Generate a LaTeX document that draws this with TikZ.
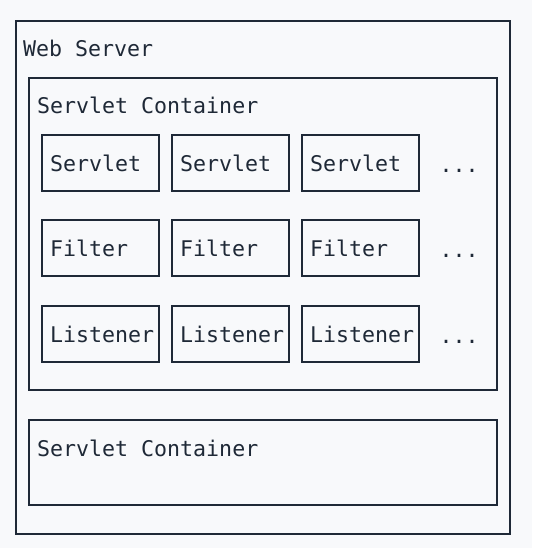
\documentclass[tikz,border=0pt]{standalone}
\usepackage{fontspec}
\setmonofont{DejaVu Sans Mono}
\usetikzlibrary{positioning}
\definecolor{ink}{HTML}{1F2937}
\definecolor{paper}{HTML}{F8F9FB}
\begin{document}
\begin{tikzpicture}[x=1pt,y=-1pt,
  every node/.style={font=\ttfamily\fontsize{21.6}{26}\selectfont,text=ink},
  frame/.style={draw=ink,line width=2pt,inner sep=0pt},
  part/.style={draw=ink,line width=2pt,minimum width=117pt,minimum height=56pt,
    text width=101pt,inner xsep=8pt,inner ysep=0pt,align=left},
  title/.style={anchor=base west,inner sep=0pt},
  more/.style={anchor=base,inner sep=0pt}
  ]
\def\colA{100.5}
\def\colB{230.5}
\def\colC{360.5}
\def\dots{459}
\fill[paper] (0,0) rectangle (532,548);
\useasboundingbox (0,0) rectangle (532,548);
% frames
\node[frame,minimum width=494pt,minimum height=513pt] (server) at (263,277.5){};      % web server
\node[frame,minimum width=468pt,minimum height=312pt] (cont1) at (263,234){};        % first container
\node[frame,minimum width=468pt,minimum height=85pt] (cont2) at (263,462.5){};       % second container
\node[title] (serverlbl) at (23,57){Web Server};
\node[title] (cont1lbl) at (37,114){Servlet Container};
\node[title] (cont2lbl) at (37,456){Servlet Container};
% servlets
\node[part] (s1) at (\colA,163){Servlet};
\node[part] (s2) at (\colB,163){Servlet};
\node[part] (s3) at (\colC,163){Servlet};
\node[more] (smore) at (\dots,172){...};
% filters
\node[part] (f1) at (\colA,248){Filter};
\node[part] (f2) at (\colB,248){Filter};
\node[part] (f3) at (\colC,248){Filter};
\node[more] (fmore) at (\dots,257){...};
% listeners
\node[part] (l1) at (\colA,334){Listener};
\node[part] (l2) at (\colB,334){Listener};
\node[part] (l3) at (\colC,334){Listener};
\node[more] (lmore) at (\dots,343){...};
\end{tikzpicture}
\end{document}
